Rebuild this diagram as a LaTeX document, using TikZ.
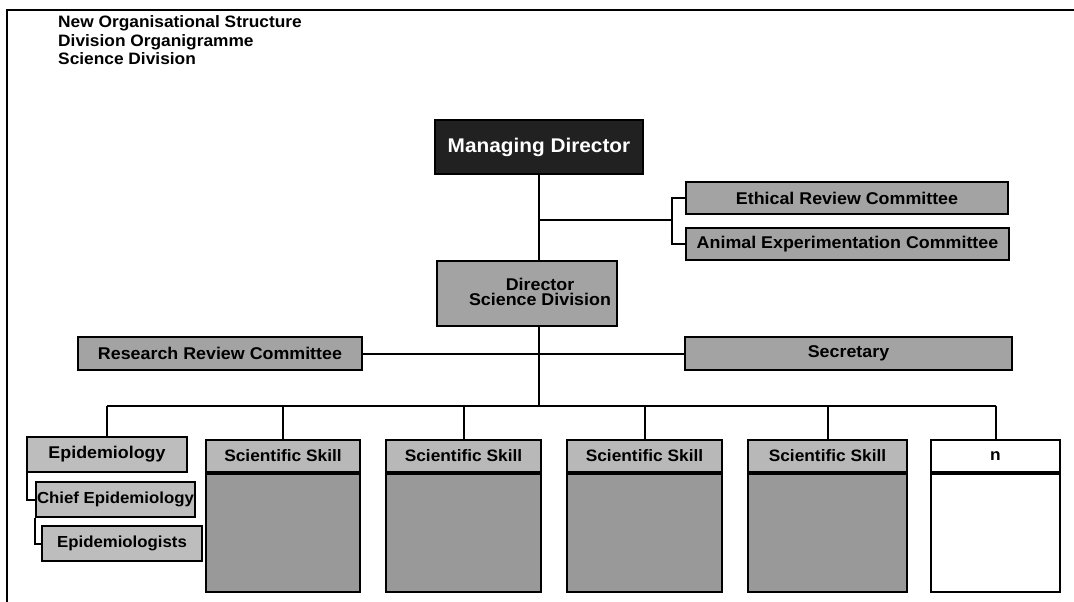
\documentclass[tikz,border=0pt]{standalone}
\usepackage{fontspec}
\setmainfont{Liberation Sans}[FakeStretch=1.05]
\definecolor{mdfill}{gray}{0.13}
\definecolor{boxgray}{gray}{0.64}
\definecolor{headgray}{gray}{0.72}
\definecolor{bodygray}{gray}{0.60}
\definecolor{epigray}{gray}{0.74}
\newcommand{\fs}[1]{\bfseries\fontsize{#1}{#1}\selectfont}
\begin{document}
\begin{tikzpicture}[x=1pt,y=-1pt,
  conn/.style={draw=black,line width=2pt},
  box/.style={draw=black,line width=1.7pt,fill=boxgray,inner sep=0pt,font=\fs{17}},
  mdbox/.style={box,fill=mdfill,text=white,font=\fs{19.8}},
  epibox/.style={box,fill=epigray,minimum width=160pt,minimum height=35pt},
  headbox/.style={box,fill=headgray,minimum height=32pt,font=\fs{16.5}},
  bodybox/.style={box,fill=bodygray,minimum height=118pt,anchor=north},
  labeltext/.style={inner sep=0pt,font=\fs{17},align=center},
  titletext/.style={inner sep=0pt,anchor=base west,font=\fs{16.5}}
]
% page extent
\useasboundingbox (0,0) rectangle (1074,602);
% frame
\draw[line width=1.6pt] (7,602) -- (7,10) -- (1074,10);

% heading
\node[titletext] (t1) at (58,28) {New Organisational Structure};
\node[titletext] (t2) at (58,46.5) {Division Organigramme};
\node[titletext] (t3) at (58,65) {Science Division};

% top of the chart
\node[mdbox,minimum width=208pt,minimum height=54pt] (md) at (539,147) {Managing Director};
\node[box,minimum width=322pt,minimum height=32pt] (erc) at (847,198) {Ethical Review Committee};
\node[box,minimum width=323pt,minimum height=32pt] (aec) at (847.5,244) {Animal Experimentation Committee};
\node[box,minimum width=180pt,minimum height=65pt] (dir) at (527,293.5) {};
\node[labeltext] (dirtext) at (540,292) {Director\\[-2pt]Science Division};
\node[box,minimum width=284pt,minimum height=33pt] (rrc) at (220,353.5) {Research Review Committee};
\node[box,minimum width=327pt,minimum height=33pt] (sec) at (848.5,353.5) {Secretary};

% departments
\node[epibox] (epi) at (107,454.5) {Epidemiology};
\node[epibox,minimum width=159pt,font=\fs{16}] (chief) at (115.5,499.5) {Chief Epidemiology};
\node[epibox,font=\fs{16}] (epis) at (122,543.5) {Epidemiologists};

\node[headbox,minimum width=154pt] (ss1) at (283,456) {Scientific Skill};
\node[headbox,minimum width=155pt] (ss2) at (463.5,456) {Scientific Skill};
\node[headbox,minimum width=155pt] (ss3) at (644.5,456) {Scientific Skill};
\node[headbox,minimum width=159pt] (ss4) at (827.5,456) {Scientific Skill};
\node[headbox,minimum width=129pt,fill=white] (nn) at (995.5,456) {n};
\node[bodybox,minimum width=154pt] (ss1b) at (ss1.south) {};
\node[bodybox,minimum width=155pt] (ss2b) at (ss2.south) {};
\node[bodybox,minimum width=155pt] (ss3b) at (ss3.south) {};
\node[bodybox,minimum width=159pt] (ss4b) at (ss4.south) {};
\node[bodybox,minimum width=129pt,fill=white] (nnb) at (nn.south) {};

% connectors
\coordinate (cj) at (672,220);
\coordinate (bus) at (539,406);
\draw[conn] (md.south) -- (md.south |- dir.north);
\draw[conn] (md.south |- cj) -- (cj);
\draw[conn] (erc.west) -| (cj) |- (aec.west);
\draw[conn] (md.south |- dir.south) -- (bus);
\draw[conn] (rrc.east) -- (sec.west);
\draw[conn] (epi.north |- bus) -- (nn.north |- bus);
\foreach \n in {epi,ss1,ss2,ss3,ss4,nn}
  \draw[conn] (\n.north |- bus) -- (\n.north);
\draw[conn] ([xshift=1pt]epi.south west) |- (chief.west);
\draw[conn] ([xshift=0pt]chief.south west) |- (epis.west);
\end{tikzpicture}
\end{document}
